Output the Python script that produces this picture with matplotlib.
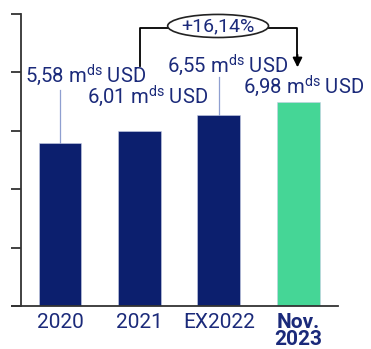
import matplotlib
matplotlib.use("Agg")
import matplotlib.pyplot as plt
from matplotlib.patches import Ellipse

categories = ["2020", "2021", "EX2022", "Nov.\n2023"]
values = [5.58, 6.01, 6.55, 6.98]
labels = ["5,58", "6,01", "6,55", "6,98"]
growth_label = "+16,14%"
yticks = [0, 2, 4, 6, 8, 10]

navy = "#0c1f6e"
text_navy = "#1b2a7a"
green = "#45d696"
colors = [navy, navy, navy, green]

plt.rcParams["font.family"] = ["Roboto", "DejaVu Sans"]
plt.rcParams["mathtext.fontset"] = "custom"
plt.rcParams["mathtext.rm"] = "Roboto"
plt.rcParams["mathtext.it"] = "Roboto"

fig = plt.figure(figsize=(3.71, 3.49), dpi=100)
ax = fig.add_axes([12/371, 1-306/349, (338-12)/371, (306-14)/349])

x = list(range(len(categories)))
ax.bar(x, values, width=0.54, color=colors, edgecolor="#c8cfe6", linewidth=0.4, zorder=2)

ax.set_xlim(-0.605, 3.5)
ax.set_ylim(0, 10)
ax.spines["left"].set_position(("data", -0.49))
for s in ["top", "right"]:
    ax.spines[s].set_visible(False)
for s in ["left", "bottom"]:
    ax.spines[s].set_color("#333333")
    ax.spines[s].set_linewidth(1.3)
ax.set_yticks(yticks)
ax.set_yticklabels([])
ax.tick_params(axis="y", length=7, width=1.3, color="#333333")
ax.tick_params(axis="x", length=0, pad=5)
ax.set_xticks(x)
ax.set_xticklabels(categories, fontsize=15, color=text_navy, linespacing=0.9)
ax.get_xticklabels()[3].set_fontweight("bold")

label_pos = [(-0.44, 7.67), (0.34, 6.93), (1.346, 8.01), (2.30, 7.29)]
for (lx, ly), lab in zip(label_pos, labels):
    ax.text(lx, ly, lab + r" m$^{\mathrm{ds}}$ USD", ha="left", va="baseline",
            fontsize=14.6, color=text_navy, zorder=5)

# leader lines
ax.plot([0, 0], [values[0], 7.40], color="#8f9fd0", lw=0.9, zorder=1)
ax.plot([2, 2], [values[2], 7.84], color="#8f9fd0", lw=0.9, zorder=1)

# growth bracket
ytop = 9.52
ax.plot([1.006, 1.006, 1.4], [8.22, ytop, ytop], color="black", lw=1.3, clip_on=False)
ax.plot([2.6, 2.99, 2.99], [ytop, ytop, 8.5], color="black", lw=1.3, clip_on=False)
ax.annotate("", xy=(2.99, 8.08), xytext=(2.99, 8.7),
            arrowprops=dict(arrowstyle="-|>", color="black", lw=1.3, mutation_scale=14),
            annotation_clip=False)
ell = Ellipse((1.99, 9.59), 1.27, 0.79, facecolor="white", edgecolor="#222222",
              lw=1.2, clip_on=False, zorder=4)
ax.add_patch(ell)
ax.text(1.99, 9.59, growth_label, ha="center", va="center", fontsize=14,
        color=text_navy, zorder=5)

fig.savefig("out.png", dpi=100)
